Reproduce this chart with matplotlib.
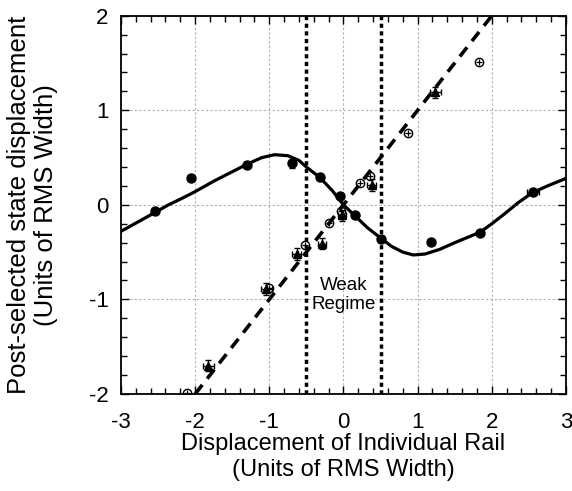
import numpy as np
import matplotlib.pyplot as plt

plt.rcParams['font.family'] = ['Liberation Sans', 'DejaVu Sans']
plt.rcParams['axes.unicode_minus'] = False

# solid curve
curve_x = [-3.0, -2.7, -2.54, -2.36, -2.2, -2.0, -1.75, -1.5, -1.3, -1.1, -0.93,
           -0.75, -0.6, -0.5, -0.32, -0.15, 0.0, 0.16, 0.32, 0.5, 0.65, 0.8,
           0.94, 1.1, 1.3, 1.5, 1.84, 2.0, 2.18, 2.35, 2.55, 2.75, 3.0]
curve_y = [-0.28, -0.15, -0.08, 0.0, 0.06, 0.14, 0.25, 0.35, 0.43, 0.50, 0.53,
           0.52, 0.47, 0.40, 0.29, 0.15, 0.0, -0.12, -0.24, -0.35, -0.44, -0.50,
           -0.53, -0.52, -0.47, -0.40, -0.29, -0.20, -0.09, 0.02, 0.13, 0.20, 0.28]

# dashed line y = x
dash_x = [-2.0, 2.0]
dash_y = [-2.0, 2.0]

# filled circles
circ_x = [-2.54, -2.05, -1.30, -0.70, -0.32, -0.05, 0.16, 0.50, 1.18, 1.84, 2.55]
circ_y = [-0.07, 0.28, 0.42, 0.44, 0.29, 0.094, -0.107, -0.36, -0.39, -0.30, 0.14]
circ_yerr = [0.02, 0.02, 0.03, 0.05, 0.02, 0.02, 0.02, 0.02, 0.02, 0.02, 0.02]
circ_xerr = [0.02, 0.02, 0.02, 0.02, 0.02, 0.02, 0.02, 0.02, 0.02, 0.02, 0.08]

# filled triangles with error bars
tri_x = [-1.82, -1.04, -0.63, -0.29, -0.02, 0.38, 1.24]
tri_y = [-1.70, -0.89, -0.52, -0.41, -0.11, 0.21, 1.19]
tri_xerr = [0.07, 0.07, 0.06, 0.06, 0.06, 0.06, 0.08]
tri_yerr = [0.06, 0.06, 0.06, 0.06, 0.06, 0.06, 0.06]

# open circles with cross
oc_x = [-2.11, -1.01, -0.52, -0.20, -0.04, 0.22, 0.36, 0.87, 1.83]
oc_y = [-1.99, -0.88, -0.42, -0.19, -0.07, 0.23, 0.31, 0.76, 1.51]

fig = plt.figure(figsize=(5.72, 4.91), dpi=100)
ax = fig.add_axes([0.2115, 0.1976, 0.778, 0.7704])

ax.plot(curve_x, curve_y, color='black', lw=2.3, solid_capstyle='round')
ax.plot(dash_x, dash_y, color='black', lw=2.6, dashes=(3.2, 2.2))

ax.errorbar(circ_x, circ_y, xerr=circ_xerr, yerr=circ_yerr, fmt='o', color='black',
            ms=6.5, elinewidth=1.0, capsize=2.5)
ax.errorbar(tri_x, tri_y, xerr=tri_xerr, yerr=tri_yerr, fmt='^', color='black',
            ms=5.5, elinewidth=1.0, capsize=2.5)
ax.plot(oc_x, oc_y, 'o', mfc='none', mec='black', ms=6, mew=1.0)
ax.plot(oc_x, oc_y, '+', color='black', ms=4, mew=0.9)

for xv in [-0.5, 0.5]:
    ax.axvline(xv, color='black', lw=2.5, dashes=(1.2, 1.0))

ax.text(0.0, -0.95, 'Weak\nRegime', ha='center', va='center', fontsize=13.5,
        linespacing=1.15)

ax.set_xlim(-3, 3)
ax.set_ylim(-2, 2)
ax.set_xticks(np.arange(-3, 4, 1))
ax.set_yticks(np.arange(-2, 3, 1))
ax.set_xticks(np.arange(-3, 3.01, 0.2), minor=True)
ax.set_yticks(np.arange(-2, 2.01, 0.2), minor=True)
ax.tick_params(which='both', direction='in', top=True, right=True, labelsize=16)
ax.tick_params(axis='x', which='major', length=6, width=1, pad=13)
ax.tick_params(axis='y', which='major', length=6, width=1, pad=9)
ax.tick_params(which='minor', length=4, width=1)
ax.grid(True, which='major', color='#b0b0b0', linestyle=(0, (2, 2)), lw=0.8)
for s in ax.spines.values():
    s.set_linewidth(1.3)

ax.set_xlabel('Displacement of Individual Rail\n(Units of RMS Width)', fontsize=17,
              labelpad=0, linespacing=1.25)
ax.set_ylabel('Post-selected state displacement\n(Units of RMS Width)', fontsize=18.5,
              labelpad=22, linespacing=1.15)

fig.savefig('out.png', dpi=100)
